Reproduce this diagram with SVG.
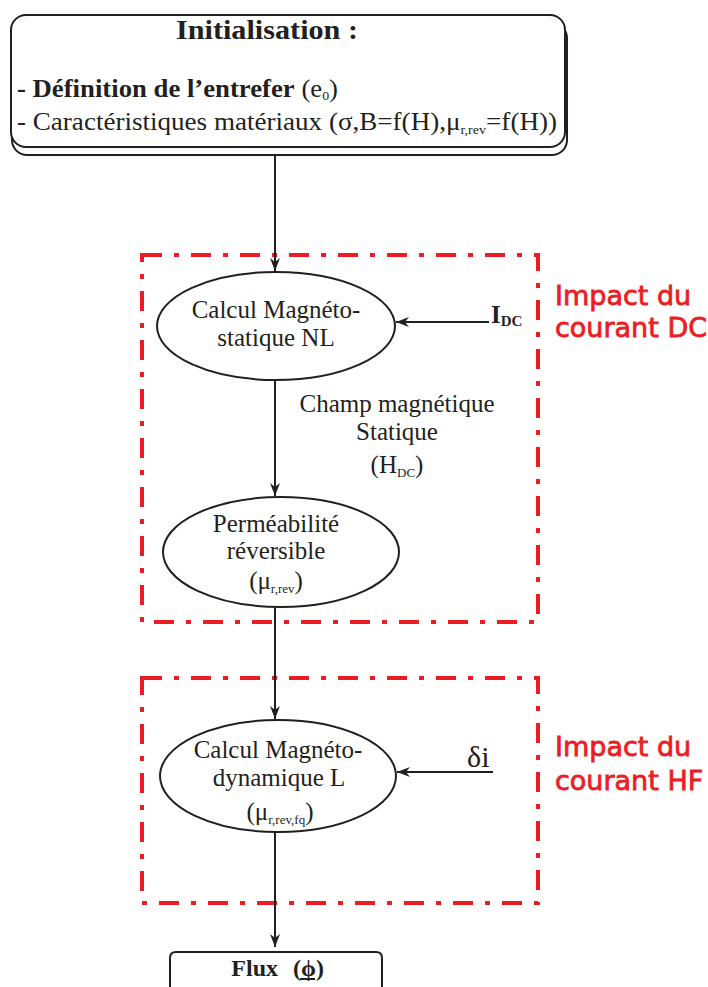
<svg xmlns="http://www.w3.org/2000/svg" width="708" height="987" viewBox="0 0 708 987">
<style>
.t{font-family:"Liberation Serif","Times New Roman",serif;fill:#231f20}
.b{font-weight:bold}
.red{font-family:"DejaVu Sans","Liberation Sans",sans-serif;fill:#ed1c24;stroke:#ed1c24;stroke-width:0.8;font-size:27px}
.frame{fill:none;stroke:#ed1c24;stroke-width:4;stroke-dasharray:20 12 5 12}
.node{fill:#fff;stroke:#231f20;stroke-width:2}
.edge{stroke:#231f20;stroke-width:2;fill:none}
</style>
<defs>
<marker id="ah" viewBox="0 0 13 10" refX="13" refY="5" markerWidth="13" markerHeight="10" markerUnits="userSpaceOnUse" orient="auto">
<path d="M0,0 L13,5 L0,10 L4,5 z" fill="#231f20"/>
</marker>
</defs>
<g id="frames">
<rect class="frame" x="142" y="255" width="396" height="367"/>
<rect class="frame" x="142" y="678" width="396" height="225"/>
<text class="red" x="555" y="305">Impact du</text>
<text class="red" x="555" y="337">courant DC</text>
<text class="red" x="555" y="756">Impact du</text>
<text class="red" x="555" y="790">courant HF</text>
</g>
<g id="connectors">
<line class="edge" x1="275" y1="155" x2="275" y2="271" marker-end="url(#ah)"/>
<line class="edge" x1="275" y1="380" x2="275" y2="496" marker-end="url(#ah)"/>
<line class="edge" x1="275" y1="607" x2="275" y2="719" marker-end="url(#ah)"/>
<line class="edge" x1="275" y1="832" x2="275" y2="947" marker-end="url(#ah)"/>
<line class="edge" x1="489" y1="322" x2="396" y2="322" marker-end="url(#ah)"/>
<line class="edge" x1="493" y1="772" x2="397" y2="772" marker-end="url(#ah)"/>
</g>
<g id="init">
<rect class="node" x="12" y="23" width="555" height="132" rx="15"/>
<rect class="node" x="11" y="15" width="554" height="132" rx="15"/>
<text class="t b" x="176" y="39" font-size="27" textLength="182" lengthAdjust="spacingAndGlyphs">Initialisation :</text>
<text class="t" x="17" y="97" font-size="25" textLength="321" lengthAdjust="spacingAndGlyphs"><tspan class="b">- Définition de l’entrefer</tspan> (e<tspan font-size="13" dy="3">0</tspan><tspan dy="-3">)</tspan></text>
<text class="t" x="17" y="130" font-size="25" textLength="540" lengthAdjust="spacingAndGlyphs">- Caractéristiques matériaux (σ,B=f(H),μ<tspan font-size="13" dy="4">r,rev</tspan><tspan dy="-4">=f(H))</tspan></text>
</g>
<g id="calcul-statique">
<ellipse class="node" cx="276" cy="326" rx="119" ry="54"/>
<text class="t" x="276" y="318" text-anchor="middle" font-size="25">Calcul Magnéto-</text>
<text class="t" x="276" y="346" text-anchor="middle" font-size="25">statique NL</text>
</g>
<g id="idc">
<text class="t b" x="491" y="323" font-size="25">I<tspan font-size="15" dy="3">DC</tspan></text>
</g>
<g id="champ">
<text class="t" x="397" y="412" text-anchor="middle" font-size="25">Champ magnétique</text>
<text class="t" x="397" y="440" text-anchor="middle" font-size="25">Statique</text>
<text class="t" x="397" y="473" text-anchor="middle" font-size="25">(H<tspan font-size="13" dy="4">DC</tspan><tspan dy="-4">)</tspan></text>
</g>
<g id="permeabilite">
<ellipse class="node" cx="281" cy="552" rx="118" ry="55"/>
<text class="t" x="276" y="532" text-anchor="middle" font-size="25">Perméabilité</text>
<text class="t" x="276" y="559" text-anchor="middle" font-size="25">réversible</text>
<text class="t" x="276" y="589" text-anchor="middle" font-size="25">(μ<tspan font-size="13" dy="4">r,rev</tspan><tspan dy="-4">)</tspan></text>
</g>
<g id="calcul-dynamique">
<ellipse class="node" cx="278" cy="776" rx="118" ry="56"/>
<text class="t" x="278" y="758" text-anchor="middle" font-size="25">Calcul Magnéto-</text>
<text class="t" x="279" y="786" text-anchor="middle" font-size="25">dynamique L</text>
<text class="t" x="280" y="820" text-anchor="middle" font-size="25">(μ<tspan font-size="13" dy="4">r,rev,fq</tspan><tspan dy="-4">)</tspan></text>
</g>
<g id="di">
<text class="t" x="467" y="767" font-size="30">δi</text>
</g>
<g id="flux">
<path class="node" d="M170,992 V958 Q170,952 176,952 H376 Q382,952 382,958 V992"/>
<text class="t b" x="278" y="976" text-anchor="end" font-size="24">Flux</text>
<text class="t b" x="293" y="976" font-size="24">(ϕ)</text>
<line x1="300" y1="979" x2="315" y2="979" stroke="#231f20" stroke-width="2"/>
</g>
</svg>
